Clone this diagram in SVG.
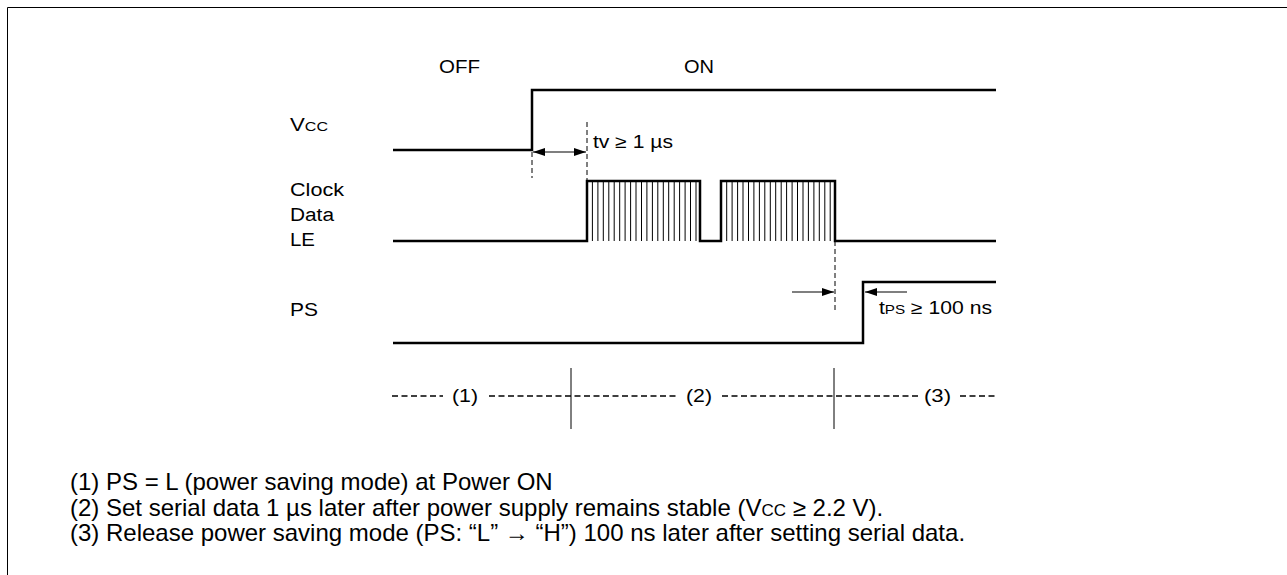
<svg xmlns="http://www.w3.org/2000/svg" width="1287" height="575" viewBox="0 0 1287 575">
<defs>
<marker id="ah" markerUnits="userSpaceOnUse" markerWidth="12" markerHeight="8" refX="12" refY="4" orient="auto-start-reverse">
<path d="M0,0 L12,4 L0,8 z" fill="#000"/>
</marker>
<style>
text{font-family:"Liberation Sans",Arial,sans-serif;fill:#000}
.lbl{font-size:18px}
.sub{font-size:13px}
.nsub{font-size:17px}
.note{font-size:24px}
.sig{fill:none;stroke:#000;stroke-width:2.5}
.stripe{fill:none;stroke:#000;stroke-width:1}
.dash{fill:none;stroke:#000;stroke-width:1;stroke-dasharray:5 3}
.row{fill:none;stroke:#000;stroke-width:1.5;stroke-dasharray:6 3.5}
.thin{fill:none;stroke:#000;stroke-width:1}
.arr{fill:none;stroke:#000;stroke-width:1.2}
</style>
</defs>
<rect width="1287" height="575" fill="#fff"/>
<g id="frame">
<path class="thin" d="M7.5,575 V7.5 H1287" stroke-width="1.2"/>
</g>
<g id="labels">
<text class="lbl" x="439" y="73" textLength="41" lengthAdjust="spacingAndGlyphs">OFF</text>
<text class="lbl" x="684" y="73" textLength="30" lengthAdjust="spacingAndGlyphs">ON</text>
<text class="lbl" x="290" y="131" textLength="38" lengthAdjust="spacingAndGlyphs">V<tspan class="sub">CC</tspan></text>
<text class="lbl" x="290" y="196" textLength="54" lengthAdjust="spacingAndGlyphs">Clock</text>
<text class="lbl" x="290" y="221" textLength="44" lengthAdjust="spacingAndGlyphs">Data</text>
<text class="lbl" x="290" y="246" textLength="25" lengthAdjust="spacingAndGlyphs">LE</text>
<text class="lbl" x="290" y="316" textLength="28" lengthAdjust="spacingAndGlyphs">PS</text>
</g>
<g id="vcc">
<path class="sig" d="M393,150 H532 V90 H996"/>
</g>
<g id="clock">
<path class="sig" d="M393,241 H587 V181 H700 V241 H721 V181 H835 V241 H996"/>
<path class="stripe" d="M592.4,181V241M597.9,181V241M603.3,181V241M608.8,181V241M614.2,181V241M619.7,181V241M625.1,181V241M630.6,181V241M636,181V241M641.5,181V241M646.9,181V241M652.4,181V241M657.8,181V241M663.3,181V241M668.7,181V241M674.2,181V241M679.6,181V241M685.1,181V241M690.5,181V241M696,181V241"/>
<path class="stripe" d="M726.7,181V241M732.1,181V241M737.6,181V241M743,181V241M748.5,181V241M753.9,181V241M759.4,181V241M764.8,181V241M770.3,181V241M775.7,181V241M781.2,181V241M786.6,181V241M792.1,181V241M797.5,181V241M803,181V241M808.4,181V241M813.9,181V241M819.3,181V241M824.8,181V241M830.2,181V241"/>
</g>
<g id="ps">
<path class="sig" d="M393,343 H863 V282 H996"/>
</g>
<g id="connectors">
<path class="dash" d="M532,152 V178"/>
<path class="dash" d="M587,122 V181"/>
<path class="dash" d="M835,241 V313"/>
<line class="arr" x1="533" y1="152" x2="586" y2="152" marker-start="url(#ah)" marker-end="url(#ah)"/>
<line class="arr" x1="792" y1="292" x2="834" y2="292" marker-end="url(#ah)"/>
<line class="arr" x1="907" y1="292" x2="865" y2="292" marker-end="url(#ah)"/>
<path class="thin" d="M571,368 V429 M834,368 V429"/>
<path class="row" d="M392,396 H443 M489,396 H677 M722,396 H918 M960,396 H996"/>
</g>
<g id="timing-labels">
<text class="lbl" x="593" y="148" textLength="80" lengthAdjust="spacingAndGlyphs">tv ≥ 1 µs</text>
<text class="lbl" x="879" y="314" textLength="113" lengthAdjust="spacingAndGlyphs">t<tspan class="sub">PS</tspan> ≥ 100 ns</text>
<text class="lbl" x="452" y="402" textLength="26" lengthAdjust="spacingAndGlyphs">(1)</text>
<text class="lbl" x="686" y="402" textLength="26" lengthAdjust="spacingAndGlyphs">(2)</text>
<text class="lbl" x="924" y="402" textLength="27" lengthAdjust="spacingAndGlyphs">(3)</text>
</g>
<g id="notes">
<text class="note" x="70" y="490">(1) PS = L (power saving mode) at Power ON</text>
<text class="note" x="70" y="515.5">(2) Set serial data 1 µs later after power supply remains stable (V<tspan class="nsub">CC</tspan> ≥ 2.2 V).</text>
<text class="note" x="70" y="541">(3) Release power saving mode (PS: “L” → “H”) 100 ns later after setting serial data.</text>
</g>
</svg>
